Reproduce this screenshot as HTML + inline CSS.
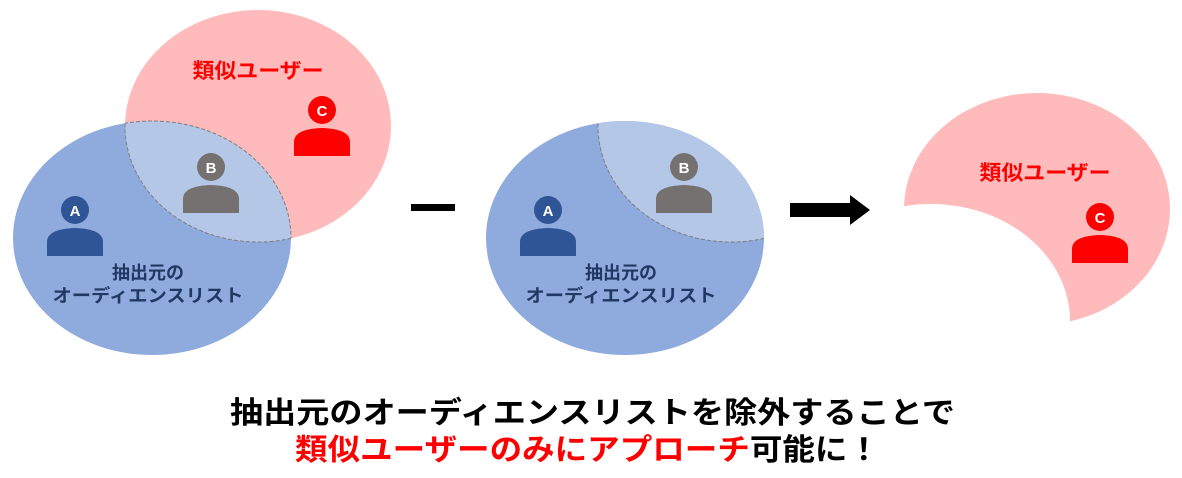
<!DOCTYPE html>
<html><head><meta charset="utf-8"><style>
html,body{margin:0;padding:0;background:#fff;}
svg{display:block;font-family:"Liberation Sans","Noto Sans CJK JP",sans-serif;}
</style></head><body>
<svg width="1182" height="478" viewBox="0 0 1182 478" xmlns="http://www.w3.org/2000/svg">
<defs>
  <clipPath id="b1"><ellipse cx="152" cy="238" rx="139" ry="117"/></clipPath>
  <clipPath id="p1"><ellipse cx="258" cy="126" rx="133" ry="116"/></clipPath>
  <clipPath id="b2"><ellipse cx="625" cy="238" rx="139" ry="117"/></clipPath>
  <mask id="m3"><rect width="1182" height="478" fill="#fff"/><ellipse cx="931" cy="321" rx="139" ry="117" fill="#000"/></mask>
  <g id="person">
    <circle cx="0" cy="0" r="14"/>
    <path d="M-28 46 L-28 32 Q-28 19 0 18 Q28 19 28 32 L28 46 Z"/>
  </g>
</defs>

<ellipse cx="152" cy="238" rx="139" ry="117" fill="#8faadc"/>
<ellipse cx="258" cy="126" rx="133" ry="116" fill="#ffbbbb"/>
<ellipse cx="258" cy="126" rx="133" ry="116" fill="#b4c7e7" clip-path="url(#b1)"/>
<ellipse cx="258" cy="126" rx="133" ry="116" fill="none" stroke="#7f7f7f" stroke-dasharray="4,2" clip-path="url(#b1)"/>
<ellipse cx="152" cy="238" rx="139" ry="117" fill="none" stroke="#7f7f7f" stroke-dasharray="4,2" clip-path="url(#p1)"/>
<text x="258" y="78" font-size="21" font-weight="bold" fill="#ff0000" text-anchor="middle" textLength="131" lengthAdjust="spacingAndGlyphs">類似ユーザー</text>
<g fill="#2f5597" transform="translate(75,210)"><use href="#person"/></g>
<text x="75" y="216" font-size="15" font-weight="bold" fill="#fff" text-anchor="middle">A</text>
<g fill="#767171" transform="translate(211,167)"><use href="#person"/></g>
<text x="211" y="173" font-size="15" font-weight="bold" fill="#fff" text-anchor="middle">B</text>
<g fill="#ff0000" transform="translate(322,110)"><use href="#person"/></g>
<text x="322" y="116" font-size="15" font-weight="bold" fill="#fff" text-anchor="middle">C</text>
<text x="148" y="279" font-size="18" font-weight="bold" fill="#203864" text-anchor="middle">抽出元の</text>
<text x="148" y="302" font-size="18" font-weight="bold" fill="#203864" text-anchor="middle" textLength="191" lengthAdjust="spacingAndGlyphs">オーディエンスリスト</text>

<rect x="411" y="204" width="44" height="7" fill="#000"/>

<ellipse cx="625" cy="238" rx="139" ry="117" fill="#8faadc"/>
<ellipse cx="731" cy="126" rx="133" ry="116" fill="#b4c7e7" clip-path="url(#b2)"/>
<ellipse cx="731" cy="126" rx="133" ry="116" fill="none" stroke="#7f7f7f" stroke-dasharray="4,2" clip-path="url(#b2)"/>
<g fill="#2f5597" transform="translate(548,210)"><use href="#person"/></g>
<text x="548" y="216" font-size="15" font-weight="bold" fill="#fff" text-anchor="middle">A</text>
<g fill="#767171" transform="translate(684,167)"><use href="#person"/></g>
<text x="684" y="173" font-size="15" font-weight="bold" fill="#fff" text-anchor="middle">B</text>
<text x="621" y="279" font-size="18" font-weight="bold" fill="#203864" text-anchor="middle">抽出元の</text>
<text x="621" y="302" font-size="18" font-weight="bold" fill="#203864" text-anchor="middle" textLength="191" lengthAdjust="spacingAndGlyphs">オーディエンスリスト</text>

<path d="M790 203 L850 203 L850 195 L870 210 L850 225 L850 217 L790 217 Z" fill="#000"/>

<ellipse cx="1037" cy="209" rx="133" ry="116" fill="#ffbbbb" mask="url(#m3)"/>
<text x="1045" y="180" font-size="21" font-weight="bold" fill="#ff0000" text-anchor="middle" textLength="131" lengthAdjust="spacingAndGlyphs">類似ユーザー</text>
<g fill="#ff0000" transform="translate(1100,217)"><use href="#person"/></g>
<text x="1100" y="223" font-size="15" font-weight="bold" fill="#fff" text-anchor="middle">C</text>

<text x="230" y="423" font-size="30" font-weight="bold" fill="#000" textLength="725" lengthAdjust="spacingAndGlyphs">抽出元のオーディエンスリストを除外することで</text>
<text x="295" y="460" font-size="30" font-weight="bold" textLength="585" lengthAdjust="spacingAndGlyphs"><tspan fill="#ff0000">類似ユーザーのみにアプローチ</tspan><tspan fill="#000">可能に！</tspan></text>
</svg>
</body></html>
